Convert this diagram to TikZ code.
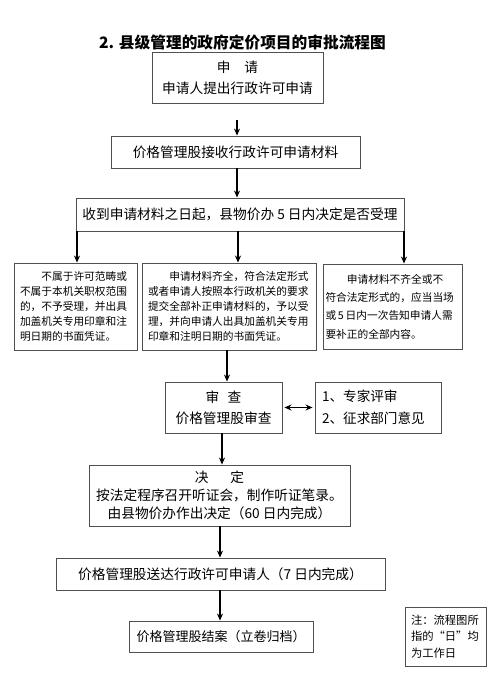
\documentclass[tikz,border=0pt]{standalone}
\usepackage{fontspec}
\setmainfont{Noto Sans CJK SC}
\usetikzlibrary{arrows.meta}
\definecolor{kuanghui}{RGB}{80,80,80}

\begin{document}
\begin{tikzpicture}[x=1pt, y=-1pt, >={Stealth[length=7pt,width=6pt]}, line width=1.3pt,
    flowbox/.style={draw=kuanghui, line width=0.9pt, inner sep=0pt, align=center,
        font=\fontsize{13.7}{21}\selectfont},
    textbox/.style={draw=kuanghui, line width=0.9pt, inner sep=0pt, align=left,
        font=\fontsize{10.7}{14.8}\selectfont}]
    \useasboundingbox (0,0) rectangle (500,685);
    \node[font=\bfseries\fontsize{15.7}{18}\selectfont] (biaoti) at (242.5,42)
        {2. 县级管理的政府定价项目的审批流程图};
    \node[flowbox, minimum width=171pt, minimum height=51pt] (shenqing) at (237.5,77.5)
        {申　请\\申请人提出行政许可申请};
    \node[flowbox, minimum width=249pt, minimum height=32pt] (jieshou) at (235.5,152)
        {价格管理股接收行政许可申请材料};
    \node[flowbox, minimum width=328pt, minimum height=33pt] (shouli) at (240,214.5)
        {收到申请材料之日起，县物价办 5 日内决定是否受理};
    % three outcomes
    \node[textbox, minimum width=123pt, minimum height=87pt, text width=111pt] (buyu) at (75.5,306.5)
        {\hspace*{2em}不属于许可范畴或\\不属于本机关职权范围\\的，不予受理，并出具\\加盖机关专用印章和注\\明日期的书面凭证。};
    \node[textbox, minimum width=174pt, minimum height=87pt, text width=162pt] (heli) at (229,306.5)
        {\hspace*{2em}申请材料齐全，符合法定形式\\或者申请人按照本行政机关的要求\\提交全部补正申请材料的，予以受\\理，并向申请人出具加盖机关专用\\印章和注明日期的书面凭证。};
    \node[textbox, minimum width=139pt, minimum height=85pt, text width=134pt,
        font=\fontsize{10.7}{18.3}\selectfont] (buqi) at (392.5,306.5)
        {\hspace*{2em}申请材料不齐全或不\\符合法定形式的，应当当场\\或\,5\,日内一次告知申请人需\\要补正的全部内容。};
    % review
    \node[flowbox, minimum width=117pt, minimum height=51pt] (shencha) at (223.5,407.5)
        {审\hspace{0.6em}查\\价格管理股审查};
    \node[flowbox, minimum width=126pt, minimum height=51pt, align=left, text width=112pt,
        font=\fontsize{13.6}{22}\selectfont] (zhuanjia) at (378,407.5)
        {1、专家评审\\2、征求部门意见};
    \node[flowbox, minimum width=261pt, minimum height=61pt,
        font=\fontsize{13.7}{18}\selectfont] (jueding) at (219.5,495.5)
        {决\hspace{1.6em}定\\按法定程序召开听证会，制作听证笔录。\\由县物价办作出决定（60 日内完成）};
    \node[flowbox, minimum width=329pt, minimum height=32pt] (songda) at (220.5,574)
        {价格管理股送达行政许可申请人（7 日内完成）};
    \node[flowbox, minimum width=184pt, minimum height=31pt,
        font=\fontsize{13}{16}\selectfont] (jiean) at (221,636.5)
        {价格管理股结案（立卷归档）};
    \node[textbox, minimum width=81pt, minimum height=59pt, text width=69pt,
        font=\fontsize{11.3}{16.5}\selectfont] (zhu) at (445.5,636.5)
        {注：流程图所\\指的“日”均\\为工作日};
    % arrows
    \coordinate (qidian) at (237,120);
    \draw[->] (qidian) -- (jieshou.north -| qidian);
    \draw[->] (jieshou.south -| qidian) -- (shouli.north -| qidian);
    \foreach \mubiao/\xx in {buyu/77, heli/238, buqi/404}
        \draw[->] (shouli.south -| \xx,0) -- (\mubiao.north -| \xx,0);
    \draw[->] (heli.south -| 227,0) -- (shencha.north -| 227,0);
    \draw[<->] ([xshift=2pt]shencha.east) -- ([xshift=-2pt]zhuanjia.west);
    \draw[->] (shencha.south -| 222,0) -- (jueding.north -| 222,0);
    \draw[->] (jueding.south -| 220,0) -- (songda.north -| 220,0);
    \draw[->] (songda.south -| 220,0) -- (jiean.north -| 220,0);
\end{tikzpicture}
\end{document}
